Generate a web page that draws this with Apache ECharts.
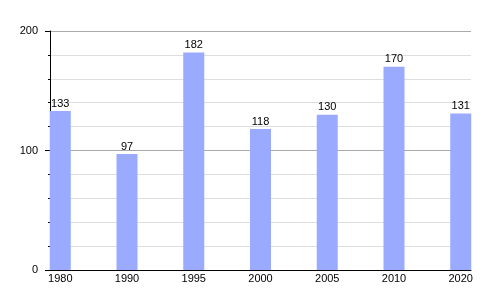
<!DOCTYPE html>
<html><head><meta charset="utf-8">
<script src="https://cdn.jsdelivr.net/npm/echarts@6/dist/echarts.min.js"></script>
<style>html,body{margin:0;padding:0;background:#fff}#c{width:500px;height:300px}</style>
</head><body><div id="c"></div>
<script>
const categories = ['1980','1990','1995','2000','2005','2010','2020'];
const values = [133, 97, 182, 118, 130, 170, 131];
const yTicks = [0, 100, 200];

const half = 0.1537;
const chart = echarts.init(document.getElementById('c'), null, {renderer: 'canvas'});
chart.setOption({
  animation: false,
  textStyle: {fontFamily: 'Liberation Sans, Arial, sans-serif'},
  grid: {left: 50, right: 29, top: 31, bottom: 30, containLabel: false},
  xAxis: {
    type: 'value',
    min: -half, max: categories.length - 1 + half,
    axisLine: {show: true, onZero: false, lineStyle: {color: '#000', width: 1}},
    axisTick: {show: false},
    splitLine: {show: false},
    axisLabel: {
      customValues: categories.map((c, i) => i),
      formatter: v => categories[Math.round(v)],
      color: '#000', fontSize: 11, margin: 3,
      fontFamily: 'Liberation Sans, Arial, sans-serif'
    }
  },
  yAxis: {
    type: 'value', min: yTicks[0], max: yTicks[yTicks.length - 1], interval: 100,
    axisLine: {show: true, onZero: false, lineStyle: {color: '#000', width: 1}},
    axisTick: {show: true, length: 5, lineStyle: {color: '#000'}},
    minorTick: {show: true, splitNumber: 5, length: 2, lineStyle: {color: '#000'}},
    splitLine: {show: true, lineStyle: {color: '#aaaaaa', width: 1}},
    minorSplitLine: {show: true, lineStyle: {color: '#dedede', width: 1}},
    axisLabel: {color: '#000', fontSize: 11, margin: 12,
      fontFamily: 'Liberation Sans, Arial, sans-serif'}
  },
  series: [{
    type: 'bar',
    data: values.map((v, i) => [i, v]),
    barWidth: 21,
    itemStyle: {color: '#99aaff'},
    label: {show: true, position: 'top', distance: 2, color: '#000', fontSize: 11,
      formatter: p => p.value[1],
      fontFamily: 'Liberation Sans, Arial, sans-serif'}
  }]
});
</script></body></html>
